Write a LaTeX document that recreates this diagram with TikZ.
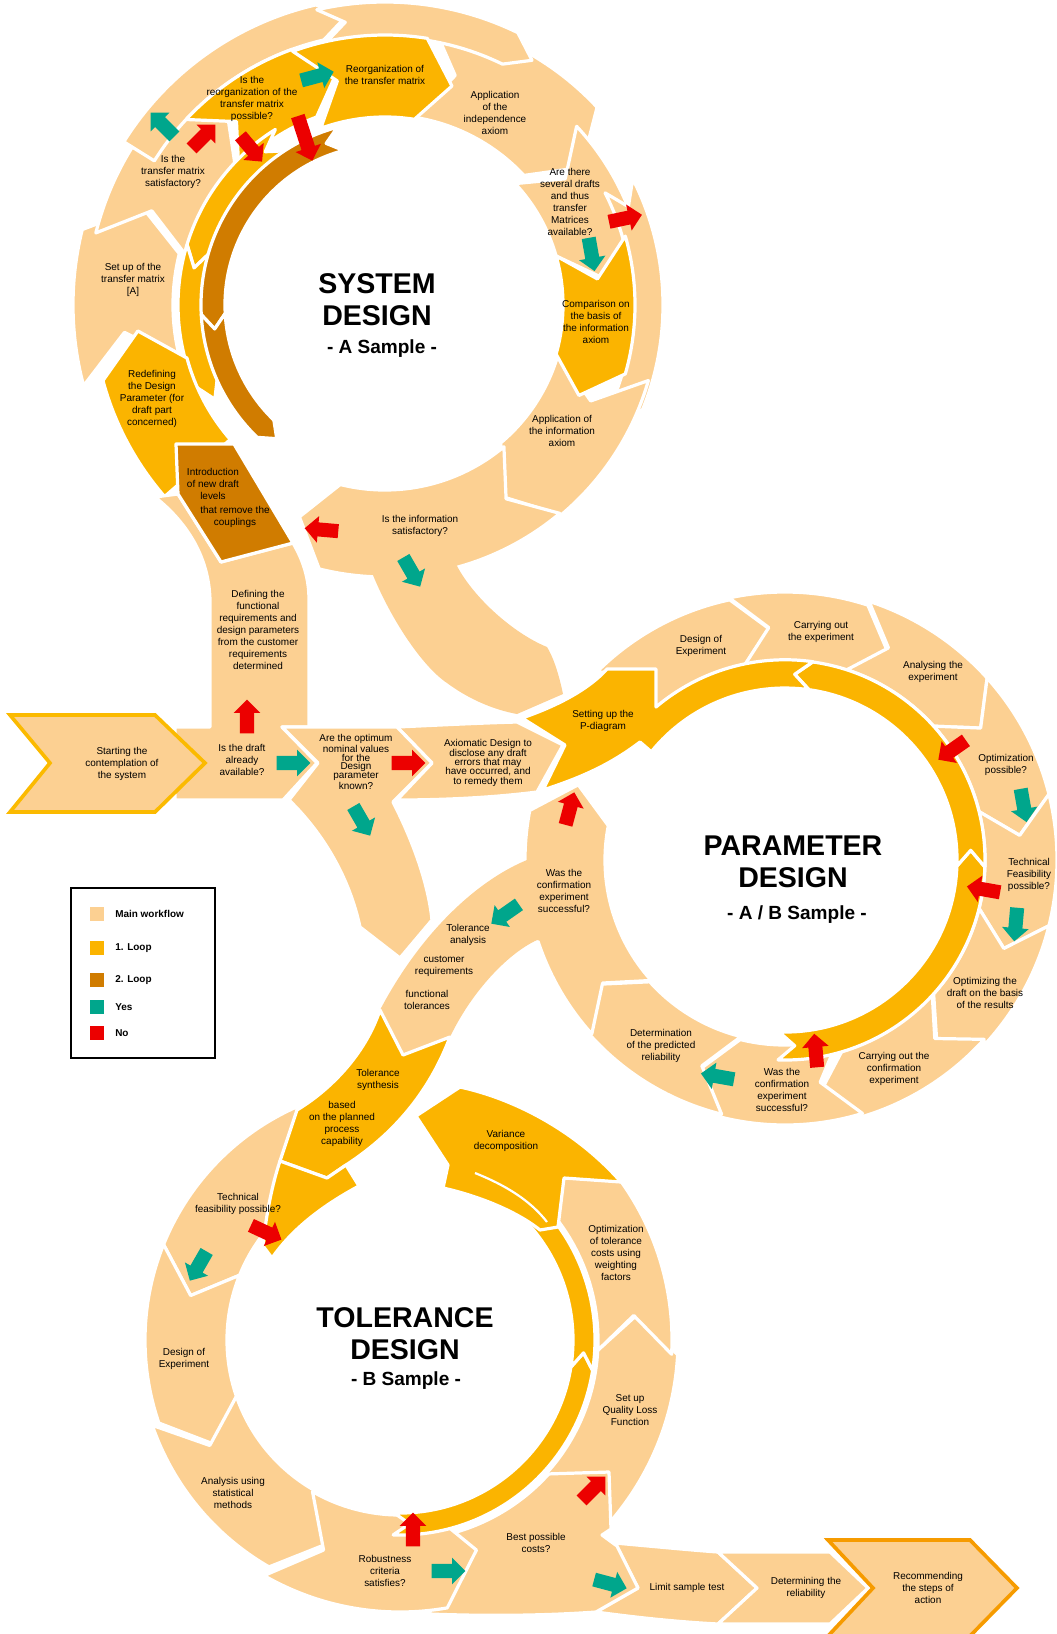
\documentclass[tikz,border=0pt]{standalone}
\usepackage{fontspec}
\setmainfont{Liberation Sans}
\usetikzlibrary{shapes.arrows}

\definecolor{mainflow}{RGB}{252,208,146}
\definecolor{loopone}{RGB}{251,180,0}
\definecolor{looptwo}{RGB}{208,124,0}
\definecolor{yescol}{RGB}{0,166,140}
\definecolor{nocol}{RGB}{236,0,0}
\definecolor{startrim}{RGB}{251,186,0}
\definecolor{endrim}{RGB}{246,155,0}

% ring piece: centre, r in, r out, from, to, notch offset, tip offset, colour
\newcommand{\ringseg}[8]{%
  \filldraw[ringpart, fill=#8, shift={#1}]
    (#4:#3) -- ({(#4)+(#6)}:{((#2)+(#3))/2}) -- (#4:#2)
    arc[start angle=#4, end angle=#5, radius=#2]
    -- ({(#5)+(#7)}:{((#2)+(#3))/2}) -- (#5:#3)
    arc[start angle=#5, end angle=#4, radius=#3] -- cycle;}

\begin{document}
\begin{tikzpicture}[x=0.024cm, y=0.024cm,
  ringpart/.style={draw=white, line width=2.2pt, line join=round},
  blockarrow/.style={single arrow, draw=none, inner xsep=0pt, inner ysep=4.6pt,
    minimum height=23pt, single arrow head extend=4.3pt},
  yesarrow/.style={blockarrow, fill=yescol},
  noarrow/.style={blockarrow, fill=nocol},
  flowtext/.style={align=center, font=\fontsize{6.8}{8.2}\selectfont, inner sep=0pt},
  ringname/.style={align=center, font=\fontsize{19.5}{22}\selectfont\bfseries, inner sep=0pt},
  ringsub/.style={font=\fontsize{13}{15}\selectfont\bfseries, inner sep=0pt},
  keybox/.style={minimum size=9pt, inner sep=0pt},
  keytext/.style={anchor=west, font=\fontsize{6.8}{8}\selectfont\bfseries, inner sep=0pt}]
\useasboundingbox (0,0) rectangle (1057,-1634);

% System design, main workflow
\ringseg{(385,-305)}{212}{312}{195}{166}{-9}{-8}{mainflow}
\ringseg{(385,-305)}{205}{298}{166}{137}{-8}{-8}{mainflow}
\ringseg{(385,-305)}{272}{308}{148}{103}{0}{-5}{mainflow}
\ringseg{(385,-305)}{190}{290}{81}{43}{-8}{-8}{mainflow}
\ringseg{(385,-305)}{268}{303}{103}{64}{-5}{-5}{mainflow}
\ringseg{(385,-305)}{178}{262}{43}{16}{-8}{-9}{mainflow}
\ringseg{(385,-305)}{247}{278}{27}{-22}{-5}{-6}{mainflow}
\ringseg{(385,-305)}{180}{274}{-16}{-50}{-9}{-8}{mainflow}
\ringseg{(385,-305)}{185}{272}{-50}{-104}{-8}{-8}{mainflow}

% System design, loops
\ringseg{(385,-305)}{200}{272}{137}{110}{-8}{-8}{loopone}
\ringseg{(385,-305)}{188}{270}{110}{81}{-8}{-8}{loopone}
\ringseg{(385,-305)}{178}{250}{16}{-16}{-9}{-9}{loopone}
\ringseg{(385,-305)}{182}{207}{122}{163}{6}{6}{loopone}
\ringseg{(385,-305)}{182}{207}{163}{203}{6}{6}{loopone}
\ringseg{(385,-305)}{205}{292}{221}{195}{0}{-9}{loopone}
\ringseg{(385,-305)}{160}{184}{105}{183}{5}{5}{looptwo}
\ringseg{(385,-305)}{160}{184}{183}{226}{5}{5}{looptwo}

% Entry column and new draft levels
\filldraw[ringpart, fill=mainflow] (175,-727) -- (210,-727) -- (210,-600)
  .. controls (209,-560) and (190,-525) .. (155,-497) -- (178,-494) -- (221,-562)
  -- (293,-543) .. controls (303,-560) and (309,-578) .. (309,-600) -- (309,-727)
  -- (282,-727) -- (317,-763) -- (283,-800) -- (175,-800) -- cycle;
\filldraw[ringpart, fill=looptwo] (176,-444) -- (234,-444) -- (293,-543)
  -- (221,-562) -- (178,-494) -- cycle;

% Band down to the parameter design
\fill[mainflow] (368,-562) .. controls (385,-610) and (420,-665) .. (447,-683)
  .. controls (470,-700) and (495,-710) .. (517,-714) -- (563,-694)
  .. controls (558,-670) and (552,-655) .. (547,-647)
  .. controls (510,-632) and (465,-590) .. (452,-555) -- cycle;

% Parameter design, main workflow
\ringseg{(785,-860)}{198}{266}{135}{102}{-8}{-8}{mainflow}
\ringseg{(785,-860)}{198}{268}{102}{72}{-8}{-8}{mainflow}
\ringseg{(785,-860)}{200}{272}{72}{42}{-8}{-8}{mainflow}
\ringseg{(785,-860)}{200}{272}{42}{14}{-8}{-8}{mainflow}
\ringseg{(785,-860)}{200}{272}{14}{-14}{-8}{-8}{mainflow}
\ringseg{(785,-860)}{200}{272}{-14}{-42}{-8}{-8}{mainflow}
\ringseg{(785,-860)}{198}{268}{-42}{-73}{-8}{-8}{mainflow}
\ringseg{(785,-860)}{185}{265}{-73}{-104}{-8}{-8}{mainflow}
\ringseg{(785,-860)}{182}{262}{-104}{-138}{-8}{-8}{mainflow}
\ringseg{(785,-860)}{180}{260}{-138}{-191}{-8}{-9}{mainflow}

% Band to the tolerance design
\fill[mainflow] (540,-851) -- (527,-860) .. controls (483,-878) and (425,-925) .. (380,-1010)
  -- (403,-1055) -- (450,-1037) .. controls (470,-995) and (505,-955) .. (537,-940)
  -- (555,-944) -- cycle;

% Parameter design, loop
\ringseg{(785,-860)}{172}{200}{268}{358}{5}{5}{loopone}
\ringseg{(785,-860)}{172}{200}{358}{442}{5}{5}{loopone}
\filldraw[ringpart, fill=loopone] (522,-718) .. controls (560,-705) and (590,-688) .. (607,-669)
  -- (656,-669) -- (656,-707) arc[start angle=130.2, end angle=82, radius=200]
  -- (794.7,-674.3) -- (808.9,-689.7) arc[start angle=82, end angle=141, radius=172]
  -- (640,-742) .. controls (610,-765) and (580,-778) .. (543,-790) -- (565,-745) -- cycle;

% Row from the start
\filldraw[ringpart, fill=mainflow] (397,-727) .. controls (440,-725) and (480,-723) .. (517,-722)
  -- (563,-745) -- (537,-792) .. controls (490,-798) and (440,-800) .. (397,-800)
  -- (432,-763) -- cycle;
\filldraw[ringpart, fill=mainflow] (282,-727) -- (397,-727) -- (432,-763) -- (393,-802)
  .. controls (410,-835) and (428,-880) .. (432,-920) -- (400,-958) -- (360,-927)
  .. controls (350,-880) and (325,-835) .. (289,-800) -- (318,-763) -- cycle;
\filldraw[fill=mainflow, draw=startrim, line width=2.5pt] (10,-715) -- (155,-715) -- (205,-763)
  -- (155,-812) -- (10,-812) -- (50,-763) -- cycle;

% Tolerance design
\ringseg{(400,-1340)}{198}{278}{312}{357}{0}{9}{mainflow}
\ringseg{(400,-1340)}{198}{272}{357}{400}{9}{9}{mainflow}
\ringseg{(400,-1340)}{173}{255}{114}{158}{0}{10}{mainflow}
\ringseg{(400,-1340)}{173}{255}{158}{199}{10}{10}{mainflow}
\ringseg{(400,-1340)}{173}{262}{199}{240}{10}{10}{mainflow}
\filldraw[ringpart, fill=mainflow] (615,-1543) .. controls (660,-1547) and (690,-1550) .. (718,-1552)
  -- (757,-1588) -- (718,-1624) .. controls (680,-1622) and (640,-1618) .. (596,-1612)
  -- (638,-1588) -- cycle;
\filldraw[ringpart, fill=mainflow] (421,-1539) arc[start angle=276, end angle=318, radius=200]
  -- (609,-1472) -- (611,-1529) -- (602,-1535) -- (617,-1546) -- (638,-1588) -- (596,-1612)
  .. controls (540,-1616) and (480,-1616) .. (430,-1614) -- cycle;
\ringseg{(400,-1340)}{175}{272}{240}{280}{10}{10}{mainflow}
\ringseg{(400,-1340)}{173}{195}{268}{351}{5}{5}{loopone}
\ringseg{(400,-1340)}{173}{195}{351}{402}{5}{5}{loopone}
\filldraw[ringpart, fill=loopone] (416,-1116) -- (448,-1165) -- (443,-1188)
  .. controls (475,-1195) and (515,-1210) .. (540,-1230) -- (558,-1227) -- (564,-1178)
  -- (621,-1182) .. controls (580,-1135) and (520,-1100) .. (460,-1087) -- cycle;
\draw[white, line width=1.5pt] (475,-1173) .. controls (505,-1185) and (530,-1200) .. (547,-1222);
\filldraw[ringpart, fill=loopone] (380,-1010) -- (403,-1055) -- (450,-1037)
  .. controls (432,-1085) and (400,-1130) .. (346,-1165) -- (327,-1178) -- (280,-1161)
  -- (297,-1110) .. controls (330,-1090) and (365,-1055) .. (380,-1010) -- cycle;
\filldraw[ringpart, fill=loopone] (280,-1161) -- (327,-1178) -- (346,-1165) -- (359,-1186)
  .. controls (318,-1208) and (290,-1232) .. (272,-1258) -- (263,-1246)
  .. controls (266,-1215) and (272,-1185) .. (280,-1161) -- cycle;

% Last steps
\filldraw[ringpart, fill=mainflow] (718,-1552) -- (830,-1552) -- (868,-1588) -- (830,-1624)
  -- (718,-1624) -- (757,-1588) -- cycle;
\filldraw[fill=mainflow, draw=endrim, line width=2.5pt] (828,-1540) -- (970,-1540) -- (1017,-1588)
  -- (970,-1636) -- (828,-1636) -- (873,-1588) -- cycle;

% Legend
\draw[line width=2pt] (71,-888) rectangle (215,-1058);
\node[keybox, fill=mainflow] (kmain) at (97,-914) {};
\node[keybox, fill=loopone] (kone) at (97,-948) {};
\node[keybox, fill=looptwo] (ktwo) at (97,-980) {};
\node[keybox, fill=yescol] (kyes) at (97,-1007) {};
\node[keybox, fill=nocol] (kno) at (97,-1033) {};
\node[keytext] (kmaint) at (115,-914) {Main workflow};
\node[keytext] (konet) at (115,-948) {1. Loop};
\node[keytext] (ktwot) at (115,-980) {2. Loop};
\node[keytext] (kyest) at (115,-1007) {Yes};
\node[keytext] (knot) at (115,-1033) {No};

% Yes / no arrows
\node[yesarrow, rotate=135] (ys1) at (165,-127) {};
\node[noarrow, rotate=45] (ns1) at (201,-139) {};
\node[noarrow, rotate=-50] (ns2) at (249,-146) {};
\node[noarrow, rotate=-72, minimum height=32pt] (ns3) at (304,-135) {};
\node[yesarrow, rotate=15] (ys2) at (314,-77) {};
\node[noarrow, rotate=12] (ns4) at (622,-219) {};
\node[yesarrow, rotate=-80] (ys3) at (591,-251) {};
\node[noarrow, rotate=175] (ns5) at (325,-530) {};
\node[yesarrow, rotate=-60] (ys4) at (410,-569) {};
\node[noarrow, rotate=90] (ns6) at (247,-720) {};
\node[yesarrow] (ys5) at (290,-763) {};
\node[noarrow] (ns7) at (405,-763) {};
\node[yesarrow, rotate=-60] (ys6) at (360,-818) {};
\node[noarrow, rotate=215] (np1) at (955,-748) {};
\node[yesarrow, rotate=-80] (yp1) at (1023,-802) {};
\node[noarrow, rotate=170] (np2) at (987,-890) {};
\node[yesarrow, rotate=-95] (yp2) at (1016,-921) {};
\node[noarrow, rotate=95] (np3) at (816,-1054) {};
\node[yesarrow, rotate=170] (yp3) at (721,-1077) {};
\node[noarrow, rotate=75] (np4) at (569,-812) {};
\node[yesarrow, rotate=215] (yp4) at (508,-912) {};
\node[noarrow, rotate=-25] (nt1) at (263,-1231) {};
\node[yesarrow, rotate=-120] (yt1) at (200,-1263) {};
\node[noarrow, rotate=90] (nt2) at (413,-1533) {};
\node[yesarrow] (yt2) at (445,-1571) {};
\node[noarrow, rotate=45] (nt3) at (591,-1491) {};
\node[yesarrow, rotate=-15] (yt3) at (607,-1583) {};

% System design texts
\node[flowtext] (srtq) at (173,-172) {Is the\\transfer matrix\\satisfactory?};
\node[flowtext] (reorgq) at (252,-99) {Is the\\reorganization of the\\transfer matrix\\possible?};
\node[flowtext] (reorg) at (385,-75) {Reorganization of\\the transfer matrix};
\node[flowtext] (indep) at (495,-113) {Application\\of the\\independence\\axiom};
\node[flowtext] (drafts) at (570,-202) {Are there\\several drafts\\and thus\\transfer\\Matrices\\available?};
\node[flowtext] (compare) at (596,-322) {Comparison on\\the basis of\\the information\\axiom};
\node[flowtext] (infoax) at (562,-431) {Application of\\the information\\axiom};
\node[flowtext] (infoq) at (420,-526) {Is the information\\satisfactory?};
\node[flowtext] (introa) at (213,-484) {Introduction\\of new draft\\levels};
\node[flowtext] (introb) at (235,-517) {that remove the\\couplings};
\node[flowtext] (redef) at (152,-399) {Redefining\\the Design\\Parameter (for\\draft part\\concerned)};
\node[flowtext] (setup) at (133,-280) {Set up of the\\transfer matrix\\{[A]}};
\node[ringname] (sysname) at (377,-300) {SYSTEM\\DESIGN};
\node[ringsub] (syssub) at (382,-349) {- A Sample -};

% Start row texts
\node[flowtext] (define) at (258,-630) {Defining the\\functional\\requirements and\\design parameters\\from the customer\\requirements\\determined};
\node[flowtext] (start) at (122,-764) {Starting the\\contemplation of\\the system};
\node[flowtext] (draftq) at (242,-760) {Is the draft\\already\\available?};
\node[flowtext, font=\fontsize{6.8}{6}\selectfont] (nominal) at (356,-762) {Are the optimum\\nominal values\\for the\\Design\\parameter\\known?};
\node[flowtext, font=\fontsize{6.8}{6.4}\selectfont] (axiom) at (488,-763) {Axiomatic Design to\\disclose any draft\\errors that may\\have occurred, and\\to remedy them};

% Parameter design texts
\node[flowtext] (pdiag) at (603,-721) {Setting up the\\P-diagram};
\node[flowtext] (pdoe) at (701,-646) {Design of\\Experiment};
\node[flowtext] (pcarry) at (821,-632) {Carrying out\\the experiment};
\node[flowtext] (panal) at (933,-672) {Analysing the\\experiment};
\node[flowtext] (popt) at (1006,-765) {Optimization\\possible?};
\node[flowtext] (ptech) at (1029,-875) {Technical\\Feasibility\\possible?};
\node[flowtext] (pdraft) at (985,-993) {Optimizing the\\draft on the basis\\of the results};
\node[flowtext] (pconf) at (894,-1069) {Carrying out the\\confirmation\\experiment};
\node[flowtext] (pwasb) at (782,-1090) {Was the\\confirmation\\experiment\\successful?};
\node[flowtext] (prel) at (661,-1046) {Determination\\of the predicted\\reliability};
\node[flowtext] (pwasl) at (564,-891) {Was the\\confirmation\\experiment\\successful?};
\node[ringname] (parname) at (793,-862) {PARAMETER\\DESIGN};
\node[ringsub] (parsub) at (797,-915) {- A / B Sample -};

% Tolerance design texts
\node[flowtext] (tana) at (468,-935) {Tolerance\\analysis};
\node[flowtext] (custreq) at (444,-966) {customer\\requirements};
\node[flowtext] (functol) at (427,-1000) {functional\\tolerances};
\node[flowtext] (tsyn) at (378,-1080) {Tolerance\\synthesis};
\node[flowtext] (tbased) at (342,-1124) {based\\on the planned\\process\\capability};
\node[flowtext] (tvar) at (506,-1141) {Variance\\decomposition};
\node[flowtext] (ttech) at (238,-1204) {Technical\\feasibility possible?};
\node[flowtext] (tdoe) at (184,-1359) {Design of\\Experiment};
\node[flowtext] (tanal) at (233,-1493) {Analysis using\\statistical\\methods};
\node[flowtext] (trob) at (385,-1571) {Robustness\\criteria\\satisfies?};
\node[flowtext] (tcost) at (536,-1543) {Best possible\\costs?};
\node[flowtext] (tqlf) at (630,-1410) {Set up\\Quality Loss\\Function};
\node[flowtext] (topt) at (616,-1253) {Optimization\\of tolerance\\costs using\\weighting\\factors};
\node[ringname] (tolname) at (405,-1334) {TOLERANCE\\DESIGN};
\node[ringsub] (tolsub) at (406,-1381) {- B Sample -};
\node[flowtext] (limit) at (687,-1588) {Limit sample test};
\node[flowtext] (reliab) at (806,-1588) {Determining the\\reliability};
\node[flowtext] (recom) at (928,-1588) {Recommending\\the steps of\\action};
\end{tikzpicture}
\end{document}
